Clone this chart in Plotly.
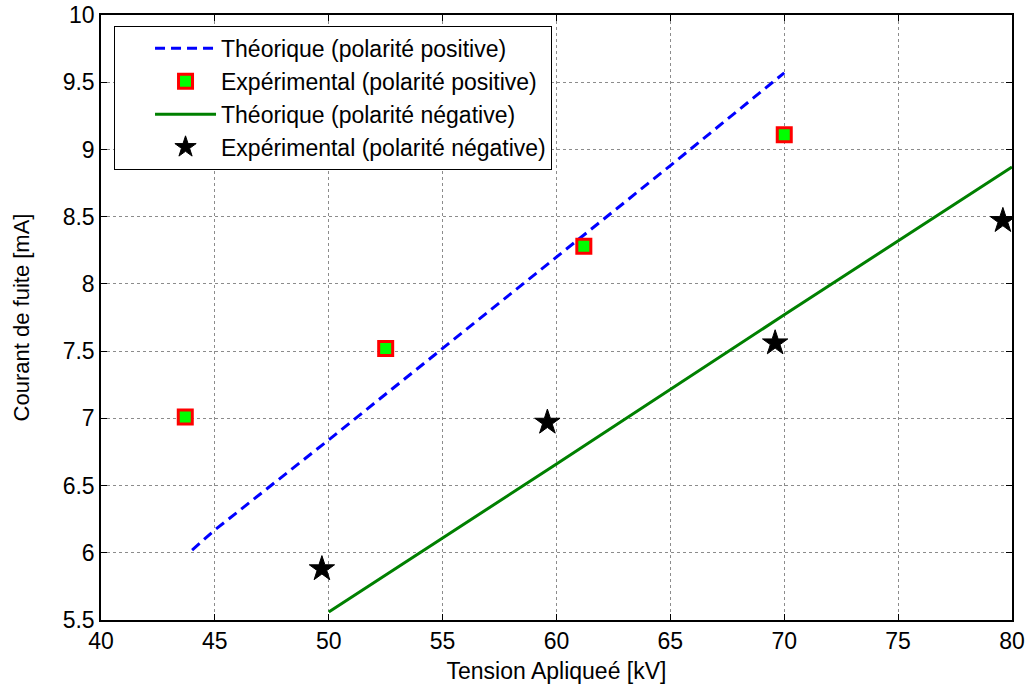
import plotly.graph_objects as go

# Theoretical, positive polarity
th_pos_x = [44, 45, 50, 55, 60, 65, 70]
th_pos_y = [6.02, 6.17, 6.84, 7.52, 8.2, 8.88, 9.57]
# Experimental, positive polarity
ex_pos_x = [43.7, 52.5, 61.2, 70.0]
ex_pos_y = [7.01, 7.52, 8.28, 9.11]
# Theoretical, negative polarity
th_neg_x = [50, 60, 70, 80]
th_neg_y = [5.56, 6.66, 7.77, 8.87]
# Experimental, negative polarity
ex_neg_x = [49.7, 59.6, 69.6, 79.6]
ex_neg_y = [5.88, 6.97, 7.56, 8.47]

x_ticks = [40, 45, 50, 55, 60, 65, 70, 75, 80]
y_ticks = [5.5, 6, 6.5, 7, 7.5, 8, 8.5, 9, 9.5, 10]

FONT = "Liberation Sans, Arial, sans-serif"

fig = go.Figure()
fig.add_trace(go.Scatter(x=th_pos_x, y=th_pos_y, mode="lines",
                         name="Théorique (polarité positive)",
                         line=dict(color="#0000ff", width=3, dash="10px,6px")))
fig.add_trace(go.Scatter(x=ex_pos_x, y=ex_pos_y, mode="markers",
                         name="Expérimental (polarité positive)",
                         marker=dict(symbol="square", size=14, color="#00ff00",
                                     line=dict(color="#ff0000", width=3))))
fig.add_trace(go.Scatter(x=th_neg_x, y=th_neg_y, mode="lines",
                         name="Théorique (polarité négative)",
                         line=dict(color="#008000", width=3)))
fig.add_trace(go.Scatter(x=ex_neg_x, y=ex_neg_y, mode="markers",
                         name="Expérimental (polarité négative)",
                         marker=dict(symbol="star", size=19, color="black",
                                     line=dict(color="black", width=1))))

axis_common = dict(showline=True, linecolor="black", linewidth=1.5, mirror="ticks",
                   ticks="inside", ticklen=6, tickcolor="black",
                   showgrid=True, gridcolor="rgba(0,0,0,0.45)", griddash="dot",
                   gridwidth=1, zeroline=False, automargin=False,
                   ticklabeloverflow="allow",
                   tickfont=dict(family=FONT, size=23, color="black"))

fig.update_xaxes(range=[40, 80], tickvals=x_ticks,
                 title=dict(text="Tension Apliqueé [kV]", standoff=10,
                            font=dict(family=FONT, size=23, color="black")),
                 **axis_common)
fig.update_yaxes(range=[5.5, 10], tickvals=y_ticks,
                 title=dict(text="Courant de fuite [mA]", standoff=27,
                            font=dict(family=FONT, size=22, color="black")),
                 **axis_common)

fig.update_layout(
    width=1030, height=689,
    margin=dict(l=101, r=18, t=15, b=69),
    plot_bgcolor="white", paper_bgcolor="white",
    font=dict(family=FONT, size=22, color="black"),
    showlegend=True,
    legend=dict(x=0.0143, y=0.982, xanchor="left", yanchor="top",
                bgcolor="white", bordercolor="black", borderwidth=1,
                font=dict(family=FONT, size=23, color="black"),
                indentation=35, itemwidth=61, tracegroupgap=0),
)

fig.write_html("out.html",
               config={"displayModeBar": False},
               post_script="document.body.style.margin='0px';document.body.style.overflow='hidden';")
